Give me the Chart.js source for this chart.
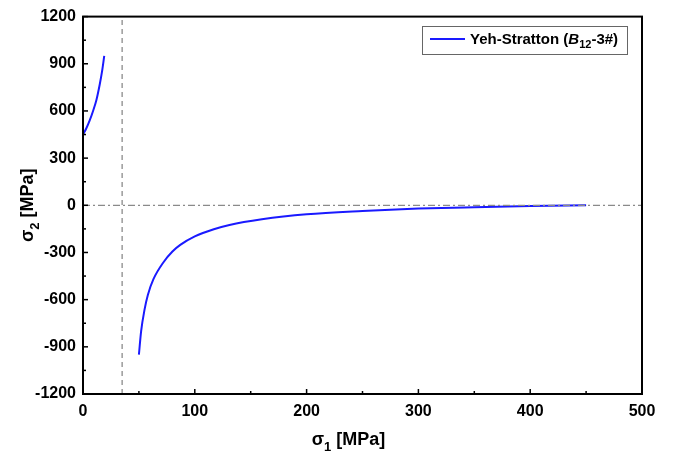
<!DOCTYPE html>
<html>
<head>
<meta charset="utf-8">
<script src="https://cdn.jsdelivr.net/npm/chart.js@4/dist/chart.umd.min.js"></script>
<style>
  html, body { margin: 0; padding: 0; background: #fff; }
  #wrap { width: 681px; height: 456px; }
</style>
</head>
<body>
<div id="wrap"><canvas id="chart"></canvas></div>
<script>
// Yeh-Stratton failure envelope, two branches either side of the asymptote
const upperSigma1 = [0, 3, 6, 9, 12, 15, 17, 19]
const upperSigma2 = [450, 490, 540, 600, 670, 770, 850, 950]
const lowerSigma1 = [50, 52, 55, 58, 63, 72, 80, 87, 100, 117, 131, 160, 200, 250, 300, 350, 400, 450]
const lowerSigma2 = [-950, -800, -665, -570, -470, -362, -294, -252, -198, -152, -125, -89, -57, -36, -21, -12, -5, 0]

const asymptoteSigma1 = 35
const zeroSigma2 = 0

const xRange = [0, 500]
const yRange = [-1200, 1200]
const xStep = 100
const yStep = 300

const legendLabel = ["Yeh-Stratton (", "B", "12", "-3#)"]
const xTitle = ["\u03c3", "1", " [MPa]"]
const yTitle = ["\u03c3", "2", " [MPa]"]

const FONT = "'Liberation Sans', Arial, sans-serif"
const BLUE = '#1a1aff'
const GREY = '#8a8a8a'

const toPoints = (xs, ys) => xs.map((x, i) => ({ x: x, y: ys[i] }))

// draws runs of text; each run = [text, font, yShift]
function drawRuns(ctx, runs, x, y, align) {
  let total = 0
  runs.forEach(r => { ctx.font = r[1]; total += ctx.measureText(r[0]).width })
  let cx = align === 'center' ? x - total / 2 : x
  ctx.textAlign = 'left'
  ctx.textBaseline = 'alphabetic'
  runs.forEach(r => {
    ctx.font = r[1]
    ctx.fillText(r[0], cx, y + r[2])
    cx += ctx.measureText(r[0]).width
  })
}

const decorations = {
  id: 'decorations',
  afterDraw(chart) {
    const { ctx, chartArea: a, scales } = chart
    const x = scales.x, y = scales.y
    ctx.save()

    // inward major + minor ticks
    ctx.strokeStyle = '#000'
    ctx.lineWidth = 1.5
    const xt = x.ticks.map(t => t.value)
    xt.forEach((v, i) => {
      const px = x.getPixelForValue(v)
      ctx.beginPath(); ctx.moveTo(px, a.bottom); ctx.lineTo(px, a.bottom - 5); ctx.stroke()
      if (i < xt.length - 1) {
        const mx = x.getPixelForValue((v + xt[i + 1]) / 2)
        ctx.beginPath(); ctx.moveTo(mx, a.bottom); ctx.lineTo(mx, a.bottom - 3); ctx.stroke()
      }
    })
    const yt = y.ticks.map(t => t.value)
    yt.forEach((v, i) => {
      const py = y.getPixelForValue(v)
      ctx.beginPath(); ctx.moveTo(a.left, py); ctx.lineTo(a.left + 5, py); ctx.stroke()
      if (i < yt.length - 1) {
        const my = y.getPixelForValue((v + yt[i + 1]) / 2)
        ctx.beginPath(); ctx.moveTo(a.left, my); ctx.lineTo(a.left + 3, my); ctx.stroke()
      }
    })

    // frame
    ctx.lineWidth = 2
    ctx.strokeRect(a.left, a.top, a.right - a.left, a.bottom - a.top)

    // legend
    ctx.lineWidth = 1
    ctx.strokeStyle = '#666'
    ctx.strokeRect(422.5, 26.5, 205, 28)
    ctx.strokeStyle = BLUE
    ctx.lineWidth = 2
    ctx.beginPath(); ctx.moveTo(430, 39); ctx.lineTo(465, 39); ctx.stroke()
    ctx.fillStyle = '#000'
    drawRuns(ctx, [
      [legendLabel[0], 'bold 15px ' + FONT, 0],
      [legendLabel[1], 'italic bold 15px ' + FONT, 0],
      [legendLabel[2], 'bold 11px ' + FONT, 4],
      [legendLabel[3], 'bold 15px ' + FONT, 0]
    ], 470, 44, 'left')

    // x title
    drawRuns(ctx, [
      [xTitle[0], 'bold 18px ' + FONT, 0],
      [xTitle[1], 'bold 13px ' + FONT, 6],
      [xTitle[2], 'bold 18px ' + FONT, 0]
    ], (a.left + a.right) / 2 - 14, 445, 'center')

    // y title
    ctx.translate(33, (a.top + a.bottom) / 2)
    ctx.rotate(-Math.PI / 2)
    drawRuns(ctx, [
      [yTitle[0], 'bold 18px ' + FONT, 0],
      [yTitle[1], 'bold 13px ' + FONT, 6],
      [yTitle[2], 'bold 18px ' + FONT, 0]
    ], 0, 0, 'center')

    ctx.restore()
  }
}

new Chart(document.getElementById('chart'), {
  type: 'line',
  data: {
    datasets: [
      {
        data: toPoints([asymptoteSigma1, asymptoteSigma1], yRange),
        borderColor: GREY, borderWidth: 1.3, borderDash: [5, 4], pointRadius: 0
      },
      {
        data: toPoints(xRange, [zeroSigma2, zeroSigma2]),
        borderColor: GREY, borderWidth: 1.3, borderDash: [7, 3, 2, 3], pointRadius: 0
      },
      {
        data: toPoints(upperSigma1, upperSigma2),
        borderColor: BLUE, borderWidth: 2, pointRadius: 0, cubicInterpolationMode: 'monotone'
      },
      {
        data: toPoints(lowerSigma1, lowerSigma2),
        borderColor: BLUE, borderWidth: 2, pointRadius: 0, cubicInterpolationMode: 'monotone'
      }
    ]
  },
  options: {
    responsive: true,
    maintainAspectRatio: false,
    animation: false,
    layout: { padding: { top: 11, right: 39, left: 0, bottom: 0 } },
    plugins: { legend: { display: false }, tooltip: { enabled: false } },
    scales: {
      x: {
        type: 'linear',
        min: xRange[0], max: xRange[1],
        border: { display: false },
        grid: { display: false, drawTicks: false },
        ticks: { stepSize: xStep, padding: 8, color: '#000', maxRotation: 0,
                 callback: v => String(v),
                 font: { family: FONT, size: 16, weight: 'bold' } },
        afterFit: s => { s.height = 62 }
      },
      y: {
        type: 'linear',
        min: yRange[0], max: yRange[1],
        border: { display: false },
        grid: { display: false, drawTicks: false },
        ticks: { stepSize: yStep, padding: 7, color: '#000',
                 callback: v => String(v),
                 font: { family: FONT, size: 16, weight: 'bold' } },
        afterFit: s => { s.width = 83 }
      }
    }
  },
  plugins: [decorations]
})
</script>
</body>
</html>
